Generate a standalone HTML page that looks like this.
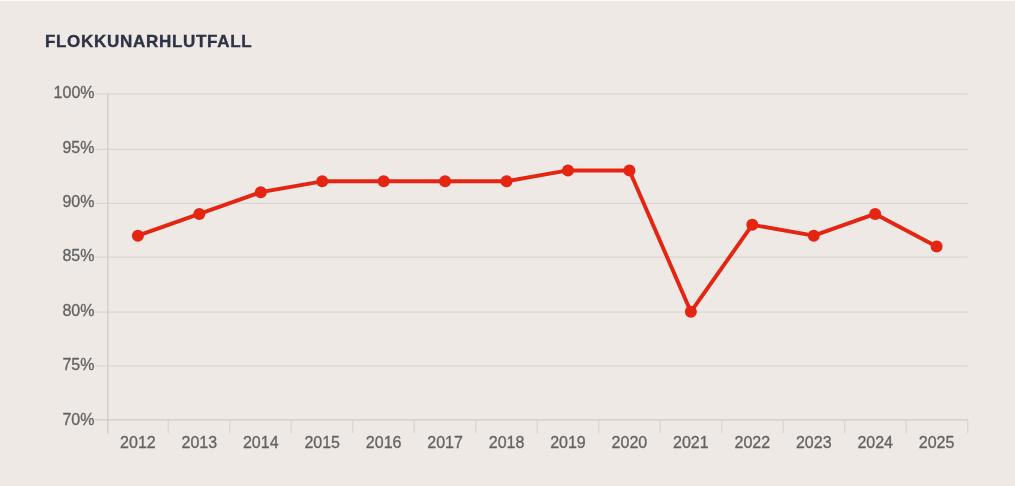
<!DOCTYPE html>
<html lang="is"><head><meta charset="utf-8"><title>Flokkunarhlutfall</title>
<style>
html,body{margin:0;padding:0;background:#eee9e5;}
body{width:1015px;height:486px;overflow:hidden;position:relative;font-family:"Liberation Sans",Arial,sans-serif;}
.top{position:absolute;left:0;top:0;width:1015px;height:1px;background:#fbfaf9;}
svg{position:absolute;left:0;top:0;}
svg text{font-family:"Liberation Sans",Arial,sans-serif;font-size:16px;fill:#636363;stroke:#636363;stroke-width:0.3px;}
svg text.title{font-size:17px;font-weight:bold;fill:#2e3244;stroke:#2e3244;stroke-width:0.35px;letter-spacing:0.71px;}
</style></head><body>
<div class="top"></div>
<svg width="1015" height="486" viewBox="0 0 1015 486">
<text class="title" x="44.9" y="47">FLOKKUNARHLUTFALL</text>

<line x1="95" x2="967.7" y1="94.20" y2="94.20" stroke="#dbd6d2" stroke-width="1.25"/>
<text x="94.5" y="98" text-anchor="end">100%</text>
<line x1="95" x2="967.7" y1="149.30" y2="149.30" stroke="#dbd6d2" stroke-width="1.25"/>
<text x="94.5" y="153" text-anchor="end">95%</text>
<line x1="95" x2="967.7" y1="203.30" y2="203.30" stroke="#dbd6d2" stroke-width="1.25"/>
<text x="94.5" y="207" text-anchor="end">90%</text>
<line x1="95" x2="967.7" y1="257.00" y2="257.00" stroke="#dbd6d2" stroke-width="1.25"/>
<text x="94.5" y="261" text-anchor="end">85%</text>
<line x1="95" x2="967.7" y1="312.10" y2="312.10" stroke="#dbd6d2" stroke-width="1.25"/>
<text x="94.5" y="316" text-anchor="end">80%</text>
<line x1="95" x2="967.7" y1="366.00" y2="366.00" stroke="#dbd6d2" stroke-width="1.25"/>
<text x="94.5" y="370" text-anchor="end">75%</text>
<line x1="95" x2="967.7" y1="419.80" y2="419.80" stroke="#cfcac6" stroke-width="1.25"/>
<text x="94.5" y="425" text-anchor="end">70%</text>
<line x1="107.8" x2="107.8" y1="94.20" y2="433.5" stroke="#cfcac6" stroke-width="1.25"/>
<line x1="168.20" x2="168.20" y1="419.80" y2="433.3" stroke="#dad5d1" stroke-width="1.25"/>
<line x1="229.70" x2="229.70" y1="419.80" y2="433.3" stroke="#dad5d1" stroke-width="1.25"/>
<line x1="291.20" x2="291.20" y1="419.80" y2="433.3" stroke="#dad5d1" stroke-width="1.25"/>
<line x1="352.70" x2="352.70" y1="419.80" y2="433.3" stroke="#dad5d1" stroke-width="1.25"/>
<line x1="414.20" x2="414.20" y1="419.80" y2="433.3" stroke="#dad5d1" stroke-width="1.25"/>
<line x1="475.70" x2="475.70" y1="419.80" y2="433.3" stroke="#dad5d1" stroke-width="1.25"/>
<line x1="537.20" x2="537.20" y1="419.80" y2="433.3" stroke="#dad5d1" stroke-width="1.25"/>
<line x1="598.70" x2="598.70" y1="419.80" y2="433.3" stroke="#dad5d1" stroke-width="1.25"/>
<line x1="660.20" x2="660.20" y1="419.80" y2="433.3" stroke="#dad5d1" stroke-width="1.25"/>
<line x1="721.70" x2="721.70" y1="419.80" y2="433.3" stroke="#dad5d1" stroke-width="1.25"/>
<line x1="783.20" x2="783.20" y1="419.80" y2="433.3" stroke="#dad5d1" stroke-width="1.25"/>
<line x1="844.70" x2="844.70" y1="419.80" y2="433.3" stroke="#dad5d1" stroke-width="1.25"/>
<line x1="906.20" x2="906.20" y1="419.80" y2="433.3" stroke="#dad5d1" stroke-width="1.25"/>
<line x1="967.70" x2="967.70" y1="419.80" y2="433.3" stroke="#dad5d1" stroke-width="1.25"/>
<text x="137.90" y="448" text-anchor="middle">2012</text>
<text x="199.34" y="448" text-anchor="middle">2013</text>
<text x="260.78" y="448" text-anchor="middle">2014</text>
<text x="322.22" y="448" text-anchor="middle">2015</text>
<text x="383.66" y="448" text-anchor="middle">2016</text>
<text x="445.10" y="448" text-anchor="middle">2017</text>
<text x="506.54" y="448" text-anchor="middle">2018</text>
<text x="567.98" y="448" text-anchor="middle">2019</text>
<text x="629.42" y="448" text-anchor="middle">2020</text>
<text x="690.86" y="448" text-anchor="middle">2021</text>
<text x="752.30" y="448" text-anchor="middle">2022</text>
<text x="813.74" y="448" text-anchor="middle">2023</text>
<text x="875.18" y="448" text-anchor="middle">2024</text>
<text x="936.62" y="448" text-anchor="middle">2025</text>
<polyline points="137.90,235.68 199.34,213.93 260.78,192.18 322.22,181.30 383.66,181.30 445.10,181.30 506.54,181.30 567.98,170.43 629.42,170.43 690.86,311.80 752.30,224.80 813.74,235.68 875.18,213.93 936.62,246.55" fill="none" stroke="#e62412" stroke-width="3.9" stroke-linejoin="round" stroke-linecap="round"/>
<circle cx="137.90" cy="235.68" r="6" fill="#e62412"/>
<circle cx="199.34" cy="213.93" r="6" fill="#e62412"/>
<circle cx="260.78" cy="192.18" r="6" fill="#e62412"/>
<circle cx="322.22" cy="181.30" r="6" fill="#e62412"/>
<circle cx="383.66" cy="181.30" r="6" fill="#e62412"/>
<circle cx="445.10" cy="181.30" r="6" fill="#e62412"/>
<circle cx="506.54" cy="181.30" r="6" fill="#e62412"/>
<circle cx="567.98" cy="170.43" r="6" fill="#e62412"/>
<circle cx="629.42" cy="170.43" r="6" fill="#e62412"/>
<circle cx="690.86" cy="311.80" r="6" fill="#e62412"/>
<circle cx="752.30" cy="224.80" r="6" fill="#e62412"/>
<circle cx="813.74" cy="235.68" r="6" fill="#e62412"/>
<circle cx="875.18" cy="213.93" r="6" fill="#e62412"/>
<circle cx="936.62" cy="246.55" r="6" fill="#e62412"/>
</svg>
</body></html>
